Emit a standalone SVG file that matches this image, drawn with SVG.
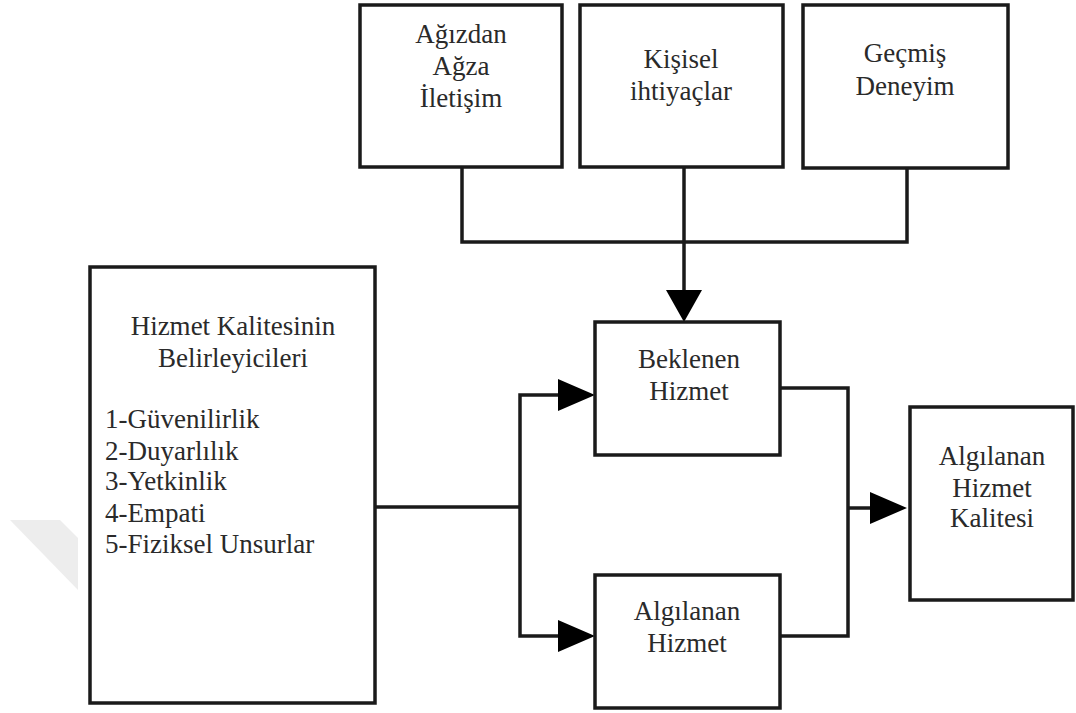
<svg xmlns="http://www.w3.org/2000/svg" width="1076" height="713" viewBox="0 0 1076 713">
<style>
.box{fill:#fff;stroke:#1a1a1a;stroke-width:3.5}
.ln{fill:none;stroke:#1a1a1a;stroke-width:3.5}
.ah{fill:#000}
text{font-family:"Liberation Serif","Times New Roman",Tinos,"Nimbus Roman","Noto Serif","DejaVu Serif",FreeSerif,serif;font-size:27px;fill:#2a2a2a}
.c{text-anchor:middle}
</style>
<rect width="1076" height="713" fill="#fff"/>
<polygon points="10,520 60,520 78,538 78,590" fill="#ededed"/>
<g id="connectors">
<polyline class="ln" points="462,168 462,242 907,242 907,168"/>
<line class="ln" x1="684" y1="168" x2="684" y2="292"/>
<polygon class="ah" points="666,290 702,290 684,322"/>
<line class="ln" x1="375" y1="507" x2="520" y2="507"/>
<polyline class="ln" points="560,395 520,395 520,636 560,636"/>
<polygon class="ah" points="558,379 558,411 595,395"/>
<polygon class="ah" points="558,620 558,652 595,636"/>
<polyline class="ln" points="780,388 848,388 848,636 780,636"/>
<line class="ln" x1="848" y1="508" x2="872" y2="508"/>
<polygon class="ah" points="870,492 870,524 907,508"/>
</g>
<g id="agizdan">
<rect class="box" x="360" y="5" width="202" height="162"/>
<text class="c" x="461" y="43">Ağızdan</text>
<text class="c" x="461" y="75">Ağza</text>
<text class="c" x="461" y="107">İletişim</text>
</g>
<g id="kisisel">
<rect class="box" x="580" y="5" width="203" height="162"/>
<text class="c" x="681" y="68">Kişisel</text>
<text class="c" x="681" y="100">ihtiyaçlar</text>
</g>
<g id="gecmis">
<rect class="box" x="803" y="5" width="205" height="163"/>
<text class="c" x="905" y="62">Geçmiş</text>
<text class="c" x="905" y="95">Deneyim</text>
</g>
<g id="belirleyiciler">
<rect class="box" x="90" y="267" width="285" height="436"/>
<text class="c" x="233" y="335">Hizmet Kalitesinin</text>
<text class="c" x="233" y="367">Belirleyicileri</text>
<text x="105" y="428">1-Güvenilirlik</text>
<text x="105" y="460">2-Duyarlılık</text>
<text x="105" y="490">3-Yetkinlik</text>
<text x="105" y="522">4-Empati</text>
<text x="105" y="553">5-Fiziksel Unsurlar</text>
</g>
<g id="beklenen">
<rect class="box" x="595" y="322" width="185" height="133"/>
<text class="c" x="689" y="368">Beklenen</text>
<text class="c" x="689" y="400">Hizmet</text>
</g>
<g id="algilanan">
<rect class="box" x="595" y="575" width="185" height="133"/>
<text class="c" x="687" y="620">Algılanan</text>
<text class="c" x="687" y="652">Hizmet</text>
</g>
<g id="kalite">
<rect class="box" x="910" y="407" width="163" height="193"/>
<text class="c" x="992" y="465">Algılanan</text>
<text class="c" x="992" y="497">Hizmet</text>
<text class="c" x="992" y="527">Kalitesi</text>
</g>
</svg>
